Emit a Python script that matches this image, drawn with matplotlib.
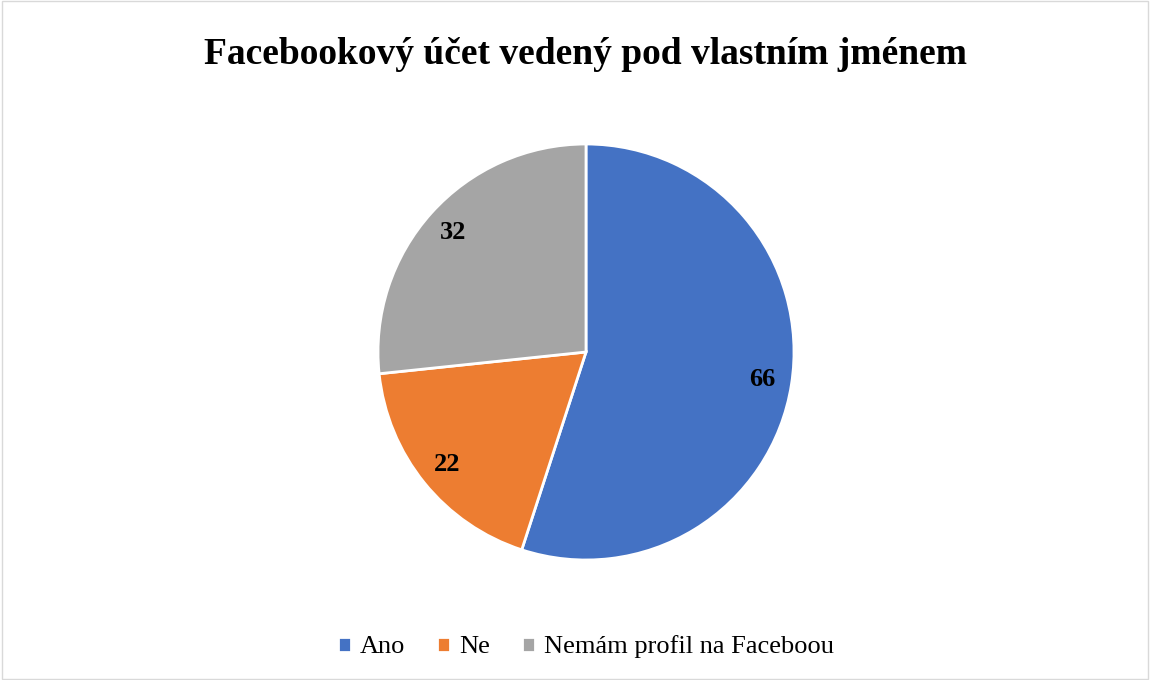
import matplotlib.pyplot as plt
from matplotlib.patches import Rectangle

labels = ['Ano', 'Ne', 'Nemám profil na Faceboou']
values = [66, 22, 32]
colors = ['#4472C4', '#ED7D31', '#A5A5A5']

plt.rcParams['font.family'] = ['Liberation Serif', 'DejaVu Serif']

fig = plt.figure(figsize=(11.5, 6.8), dpi=100)
fig.patches.append(Rectangle((0.002, 0.002), 0.996, 0.996, transform=fig.transFigure,
                             fill=False, edgecolor='#D9D9D9', linewidth=1))

ax = fig.add_axes([(586 - 208) / 1150, (680 - 560) / 680, 416 / 1150, 416 / 680])
wedges, texts, autotexts = ax.pie(values, colors=colors, startangle=90, counterclock=False,
                                  autopct=lambda p: '%d' % round(p * sum(values) / 100),
                                  pctdistance=0.86,
                                  wedgeprops=dict(edgecolor='white', linewidth=2),
                                  textprops=dict(fontsize=19, fontweight='bold'))
ax.set_xlim(-1, 1)
ax.set_ylim(-1, 1)
ax.set_aspect('equal')

fig.text(586 / 1150, 1 - 55 / 680, 'Facebookový účet vedený pod vlastním jménem',
         ha='center', va='center', fontsize=27, fontweight='bold')

fig.legend(wedges, labels, loc='center', bbox_to_anchor=(586 / 1150, 1 - 647 / 680), ncol=3,
           frameon=False, fontsize=19, handlelength=0.5, handleheight=0.5,
           handletextpad=0.35, columnspacing=1.2)

fig.savefig('out.png', dpi=100)
